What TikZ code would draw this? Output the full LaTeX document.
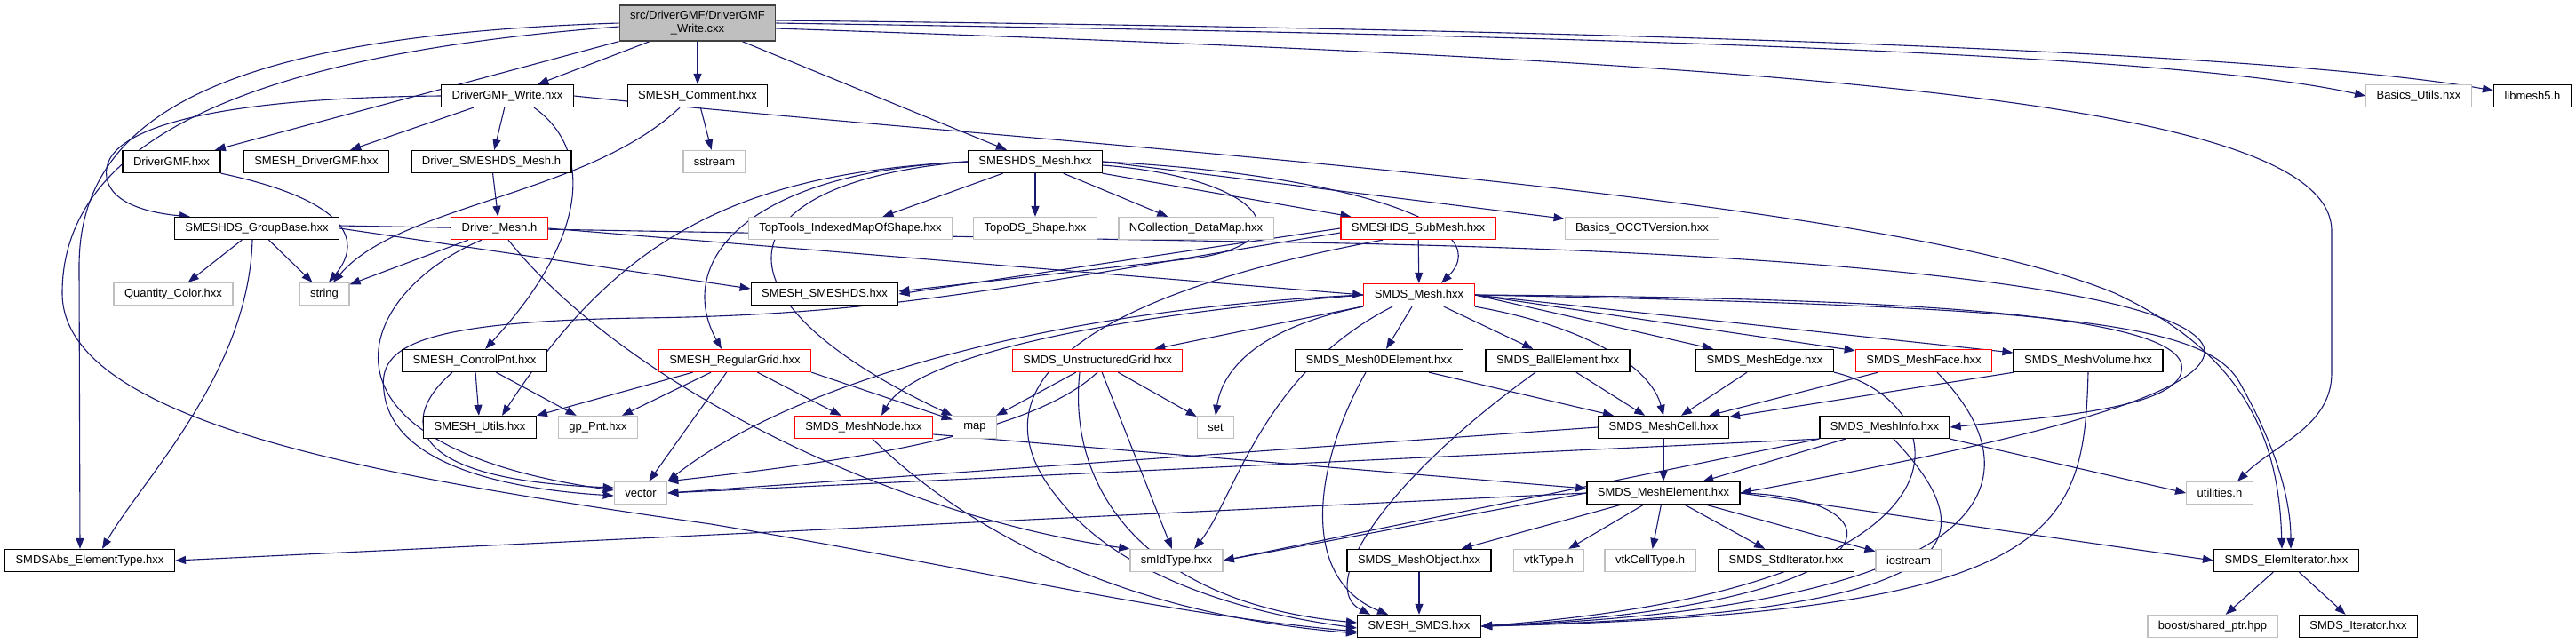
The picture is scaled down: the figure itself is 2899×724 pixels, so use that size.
\documentclass[tikz,border=0pt]{standalone}
\usepackage{fontspec}
\setmainfont{Liberation Sans}
\usetikzlibrary{arrows.meta,backgrounds}
\definecolor{edgeblue}{HTML}{191970}
\definecolor{extgray}{HTML}{BFBFBF}
\definecolor{rootline}{HTML}{404040}

\begin{document}
\begin{tikzpicture}[x=1pt,y=-1pt,
  box/.style={rectangle,minimum height=25pt,inner xsep=12pt,inner ysep=2pt,fill=white,line width=1.3pt,font=\fontsize{13}{15}\selectfont},
  docbox/.style={box,draw=black},
  extbox/.style={box,draw=extgray},
  truncbox/.style={box,draw=red},
  rootbox/.style={box,draw=rootline,fill=extgray,minimum height=40pt,align=center},
  inc/.style={draw=edgeblue,line width=1.1pt,-{Triangle[length=12pt,width=9pt]}}]
\useasboundingbox (0,0) rectangle (2899,724);

\node[rootbox] (root) at (785,26) {src/DriverGMF/DriverGMF\\\_Write.cxx};
\node[docbox] (writeh) at (571,108) {DriverGMF\_Write.hxx};
\node[docbox] (comment) at (785,108) {SMESH\_Comment.hxx};
\node[extbox] (basicsutils) at (2722,108) {Basics\_Utils.hxx};
\node[docbox] (libmesh) at (2850,108) {libmesh5.h};
\node[docbox] (gmf) at (193,182) {DriverGMF.hxx};
\node[docbox] (drvgmf) at (356,182) {SMESH\_DriverGMF.hxx};
\node[docbox] (drvsmeshds) at (553,182) {Driver\_SMESHDS\_Mesh.h};
\node[extbox] (sstream) at (804,182) {sstream};
\node[docbox] (dsmesh) at (1165,182) {SMESHDS\_Mesh.hxx};
\node[docbox] (groupbase) at (289,257) {SMESHDS\_GroupBase.hxx};
\node[truncbox] (drvmesh) at (562,257) {Driver\_Mesh.h};
\node[extbox] (toptools) at (957,257) {TopTools\_IndexedMapOfShape.hxx};
\node[extbox] (topods) at (1165,257) {TopoDS\_Shape.hxx};
\node[extbox] (ncoll) at (1346,257) {NCollection\_DataMap.hxx};
\node[truncbox] (submesh) at (1596,257) {SMESHDS\_SubMesh.hxx};
\node[extbox] (occtver) at (1848,257) {Basics\_OCCTVersion.hxx};
\node[extbox] (qcolor) at (195,331) {Quantity\_Color.hxx};
\node[extbox] (string) at (365,331) {string};
\node[docbox] (smeshds) at (928,331) {SMESH\_SMESHDS.hxx};
\node[truncbox] (smdsmesh) at (1597,332) {SMDS\_Mesh.hxx};
\node[docbox] (ctrlpnt) at (534,406) {SMESH\_ControlPnt.hxx};
\node[truncbox] (reggrid) at (827,406) {SMESH\_RegularGrid.hxx};
\node[truncbox] (ugrid) at (1235,406) {SMDS\_UnstructuredGrid.hxx};
\node[docbox] (m0d) at (1552,406) {SMDS\_Mesh0DElement.hxx};
\node[docbox] (ball) at (1753,406) {SMDS\_BallElement.hxx};
\node[docbox] (medge) at (1986,406) {SMDS\_MeshEdge.hxx};
\node[truncbox] (mface) at (2165,406) {SMDS\_MeshFace.hxx};
\node[docbox] (mvol) at (2350,406) {SMDS\_MeshVolume.hxx};
\node[docbox] (utils) at (540,481) {SMESH\_Utils.hxx};
\node[extbox] (gppnt) at (673,481) {gp\_Pnt.hxx};
\node[truncbox] (mnode) at (972,481) {SMDS\_MeshNode.hxx};
\node[extbox] (map) at (1097,481) {map};
\node[extbox] (set) at (1368,481) {set};
\node[docbox] (mcell) at (1872,481) {SMDS\_MeshCell.hxx};
\node[docbox] (minfo) at (2121,481) {SMDS\_MeshInfo.hxx};
\node[extbox] (vector) at (721,555) {vector};
\node[docbox] (melem) at (1872,555) {SMDS\_MeshElement.hxx};
\node[extbox] (utilh) at (2498,555) {utilities.h};
\node[docbox] (abstype) at (101,631) {SMDSAbs\_ElementType.hxx};
\node[extbox] (smid) at (1324,631) {smIdType.hxx};
\node[docbox] (mobj) at (1597,631) {SMDS\_MeshObject.hxx};
\node[extbox] (vtktype) at (1743,631) {vtkType.h};
\node[extbox] (vtkcell) at (1857,631) {vtkCellType.h};
\node[docbox] (stditer) at (2010,631) {SMDS\_StdIterator.hxx};
\node[extbox] (iostream) at (2148,631) {iostream};
\node[docbox] (elemiter) at (2573,631) {SMDS\_ElemIterator.hxx};
\node[docbox] (smeshsmds) at (1597,705) {SMESH\_SMDS.hxx};
\node[extbox] (boostptr) at (2490,705) {boost/shared\_ptr.hpp};
\node[docbox] (smdsiter) at (2654,705) {SMDS\_Iterator.hxx};

\begin{scope}[on background layer]
% root
\draw[inc] (root) -- (writeh);
\draw[inc] (root) -- (comment);
\draw[inc] (root) -- (dsmesh);
\draw[inc] (root.south west) -- (gmf);
\draw[inc] (root.west) .. controls (250,40) and (89,130) .. (89,300) -- ([xshift=-11pt]abstype.north);
\draw[inc] ([yshift=-4pt]root.west) .. controls (300,60) and (70,150) .. (70,330) .. controls (70,480) and (450,540) .. (800,590) .. controls (1100,640) and (1300,690) .. ([yshift=-6pt]smeshsmds.west);
\draw[inc] (root.east) .. controls (1800,40) and (2450,60) .. (basicsutils.west);
\draw[inc] ([yshift=3pt]root.east) .. controls (2000,35) and (2600,65) .. ([yshift=6pt]libmesh.west);
\draw[inc] ([yshift=-6pt]root.east) .. controls (2000,70) and (2624,110) .. (2624,260) -- (2624,420) .. controls (2624,480) and (2560,500) .. ([xshift=20pt]utilh.north);
% writeh
\draw[inc] (writeh) -- (drvgmf);
\draw[inc] (writeh) -- (drvsmeshds);
\draw[inc] (writeh.west) .. controls (260,110) and (110,140) .. (120,200) .. controls (125,230) and (170,240) .. ([xshift=-75pt]groupbase.north);
\draw[inc] ([xshift=30pt]writeh.south) .. controls (670,170) and (660,270) .. (ctrlpnt);
\draw[inc] (writeh.east) .. controls (1200,165) and (2100,215) .. (2380,330) .. controls (2530,400) and (2565,500) .. ([xshift=-5pt]elemiter.north);
% comment, gmf, drivers
\draw[inc] (comment) -- (sstream);
\draw[inc] ([xshift=-20pt]comment.south) .. controls (660,220) and (450,230) .. ([xshift=10pt]string.north);
\draw[inc] (gmf.south east) .. controls (390,225) and (410,270) .. ([xshift=5pt]string.north);
\draw[inc] (drvsmeshds) -- (drvmesh);
\draw[inc] (drvmesh) -- (string);
\draw[inc] ([xshift=-20pt]drvmesh.south) .. controls (400,330) and (330,500) .. ([yshift=3pt]vector.west);
\draw[inc] ([xshift=10pt]drvmesh.south) .. controls (700,430) and (1000,580) .. (smid.north west);
\draw[inc] (drvmesh.east) -- (smdsmesh.west);
% groupbase
\draw[inc] (groupbase) -- (qcolor);
\draw[inc] (groupbase) -- (string);
\draw[inc] ([xshift=-5pt]groupbase.south) .. controls (280,420) and (160,540) .. ([xshift=14pt]abstype.north);
\draw[inc] (groupbase.east) -- ([yshift=6pt]smeshds.west);
\draw[inc] ([yshift=3pt]groupbase.east) -- (1400,272) .. controls (2000,280) and (2450,320) .. (2480,390) .. controls (2500,450) and (2200,510) .. (melem.east);
% dsmesh
\draw[inc] (dsmesh) -- (toptools);
\draw[inc] (dsmesh) -- (topods);
\draw[inc] (dsmesh) -- (ncoll);
\draw[inc] (dsmesh) -- (submesh);
\draw[inc] (dsmesh.east) -- (occtver);
\draw[inc] (dsmesh.east) .. controls (1500,195) and (1690,250) .. ([xshift=25pt]smdsmesh.north);
\draw[inc] ([yshift=-4pt]dsmesh.east) .. controls (1420,200) and (1470,270) .. (1350,290) -- ([yshift=3pt]smeshds.east);
\draw[inc] (dsmesh.west) .. controls (830,195) and (760,300) .. ([xshift=-15pt]reggrid.north);
\draw[inc] (dsmesh.west) .. controls (840,195) and (700,260) .. ([xshift=25pt]utils.north);
\draw[inc] (dsmesh.west) .. controls (820,205) and (780,330) .. (map.north west);
% submesh
\draw[inc] (submesh) -- (smdsmesh);
\draw[inc] (submesh.west) -- (smeshds.east);
\draw[inc] ([yshift=-5pt]submesh.west) .. controls (1150,320) and (1000,355) .. (720,358) .. controls (470,362) and (425,390) .. (432,440) .. controls (440,520) and (560,550) .. ([yshift=-3pt]vector.west);
\draw[inc] ([xshift=-40pt]submesh.south) .. controls (1180,340) and (1100,450) .. (1190,560) .. controls (1260,650) and (1400,690) .. ([yshift=-2pt]smeshsmds.west);
% grids
\draw[inc] (ctrlpnt) -- (utils);
\draw[inc] (ctrlpnt) -- (gppnt);
\draw[inc] ([xshift=-25pt]ctrlpnt.south) .. controls (450,470) and (450,540) .. ([yshift=6pt]vector.west);
\draw[inc] (reggrid) -- (utils.north east);
\draw[inc] (reggrid) -- (gppnt);
\draw[inc] (reggrid) -- (vector);
\draw[inc] (reggrid) -- (mnode);
\draw[inc] (reggrid.south east) -- (map);
\draw[inc] (ugrid) -- (map);
\draw[inc] (ugrid) -- (set);
\draw[inc] (ugrid.south) .. controls (1160,490) and (950,520) .. (vector.north east);
\draw[inc] (ugrid) -- (smid);
\draw[inc] ([xshift=-20pt]ugrid.south) .. controls (1200,560) and (1300,680) .. ([yshift=4pt]smeshsmds.west);
% smdsmesh
\draw[inc] (smdsmesh) -- (ugrid);
\draw[inc] (smdsmesh.west) .. controls (1250,355) and (1030,400) .. ([xshift=20pt]mnode.north);
\draw[inc] (smdsmesh.west) .. controls (1150,350) and (880,440) .. (vector.north east);
\draw[inc] (smdsmesh.south west) .. controls (1410,370) and (1375,420) .. (set.north);
\draw[inc] ([xshift=-30pt]smdsmesh.south) .. controls (1420,420) and (1390,560) .. ([xshift=20pt]smid.north);
\draw[inc] (smdsmesh) -- (m0d);
\draw[inc] (smdsmesh) -- (ball);
\draw[inc] (smdsmesh.south east) .. controls (1800,370) and (1860,420) .. (mcell.north);
\draw[inc] (smdsmesh.east) -- (medge);
\draw[inc] (smdsmesh.east) -- (mface);
\draw[inc] (smdsmesh.east) -- (mvol);
\draw[inc] (smdsmesh.east) .. controls (2100,335) and (2440,350) .. (2455,410) .. controls (2465,460) and (2300,470) .. (minfo.east);
\draw[inc] (smdsmesh.east) .. controls (2300,345) and (2480,360) .. (2520,430) .. controls (2560,500) and (2578,560) .. ([xshift=5pt]elemiter.north);
% elements
\draw[inc] (m0d) -- (mcell);
\draw[inc] (ball) -- (mcell);
\draw[inc] (medge) -- (mcell);
\draw[inc] (mface) -- (mcell);
\draw[inc] (mvol) -- (mcell);
\draw[inc] ([xshift=-15pt]m0d.south) .. controls (1480,520) and (1460,650) .. ([xshift=-35pt]smeshsmds.north);
\draw[inc] ([xshift=-25pt]ball.south) .. controls (1560,540) and (1480,660) .. ([xshift=-55pt]smeshsmds.north);
\draw[inc] (medge.south east) .. controls (2200,450) and (2260,660) .. (smeshsmds.east);
\draw[inc] ([xshift=15pt]mface.south) .. controls (2280,520) and (2300,680) .. (smeshsmds.east);
\draw[inc] (mvol.south) .. controls (2345,600) and (2320,690) .. (smeshsmds.east);
\draw[inc] ([yshift=-8pt]mnode.east) -- ([yshift=5pt]melem.west);
\draw[inc] ([xshift=10pt]mnode.south) .. controls (1080,590) and (1250,690) .. ([yshift=-8pt]smeshsmds.west);
\draw[inc] (mcell) -- (melem);
\draw[inc] (mcell.west) -- (vector.east);
\draw[inc] (minfo) -- (melem);
\draw[inc] (minfo.south west) -- (vector.east);
\draw[inc] (minfo.south west) -- (smid.east);
\draw[inc] (minfo.south east) -- (utilh.west);
\draw[inc] ([xshift=10pt]minfo.south) .. controls (2250,620) and (2200,690) .. (smeshsmds.east);
\draw[inc] (melem.west) -- (abstype.east);
\draw[inc] (melem.west) -- (smid.east);
\draw[inc] (melem) -- (mobj);
\draw[inc] (melem) -- (vtktype);
\draw[inc] (melem) -- (vtkcell);
\draw[inc] (melem) -- (stditer);
\draw[inc] (melem) -- (iostream);
\draw[inc] (melem.east) -- (elemiter.west);
\draw[inc] (melem.east) .. controls (2150,560) and (2150,680) .. (smeshsmds.east);
\draw[inc] (mobj) -- (smeshsmds);
\draw[inc] (elemiter) -- (boostptr);
\draw[inc] (elemiter) -- (smdsiter);
\end{scope}
\end{tikzpicture}
\end{document}
